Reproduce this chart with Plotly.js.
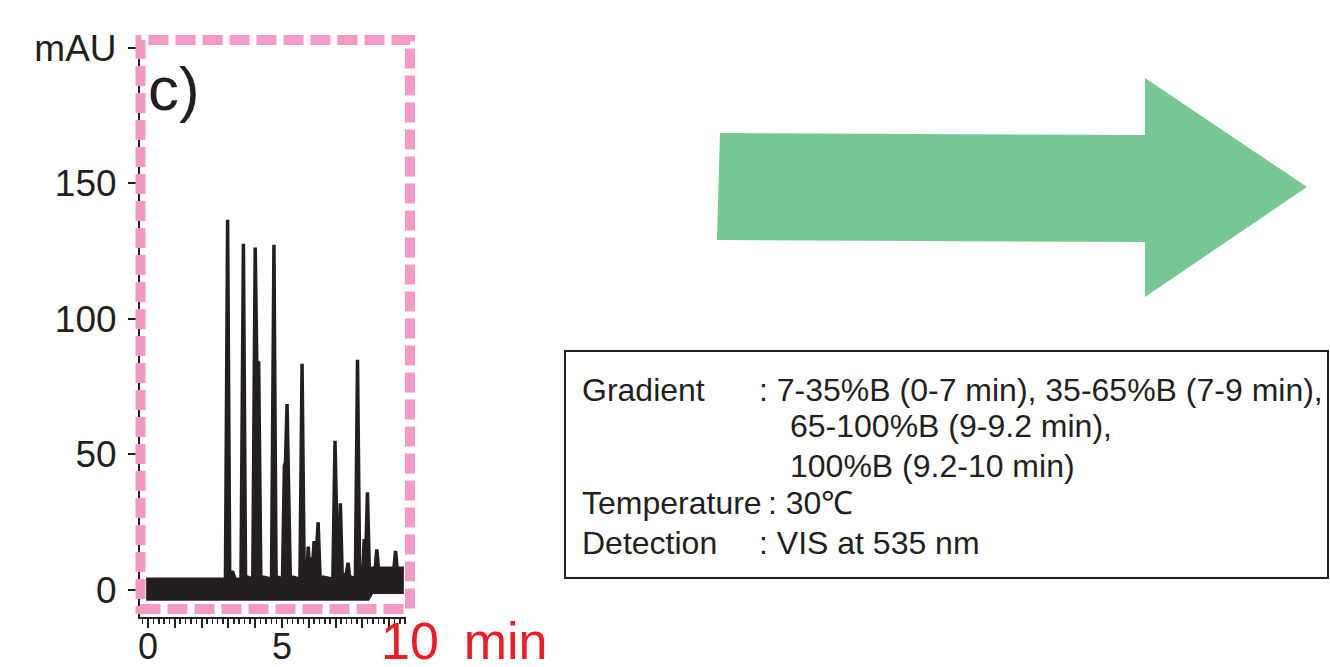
<!DOCTYPE html>
<html>
<head>
<meta charset="utf-8">
<script src="https://cdn.plot.ly/plotly-3.0.1.min.js"></script>
<style>html,body{margin:0;padding:0;background:#fff;}#chart{width:1330px;height:667px;}</style>
</head>
<body>
<div id="chart"></div>
<script>
// ---- data (time in min, signal in mAU) ----
const upperTime = [-0.07, 2.89, 2.97, 3.05, 3.15, 3.25, 3.47, 3.56, 3.64, 3.91, 4.00, 4.06, 4.13, 4.21,
  4.61, 4.70, 4.78, 5.02, 5.09, 5.13, 5.19, 5.25, 5.31, 5.67, 5.75, 5.83, 5.93, 5.98, 6.02, 6.06,
  6.12, 6.20, 6.25, 6.35, 6.42, 6.90, 6.98, 7.07, 7.13, 7.18, 7.25, 7.40, 7.47, 7.52, 7.74, 7.82,
  7.90, 8.02, 8.07, 8.12, 8.19, 8.26, 8.48, 8.54, 8.60, 9.18, 9.24, 9.30, 9.55];
const upperSignal = [4, 4, 136.5, 5, 7, 4, 4, 127.7, 5, 4, 126.3, 84, 83.8, 5,
  4, 127.3, 5, 4, 45.8, 47, 68.6, 30, 5, 4, 83.4, 5, 5, 16, 8, 12,
  6, 18, 8, 25, 5, 4, 55, 12, 10, 32, 5, 6, 10, 5, 4, 84.9,
  6, 6, 18.8, 10, 36, 8, 8, 15, 8, 8, 14.4, 8, 8];
const lowerTime = [-0.07, 8.25, 8.40, 9.55];
const lowerSignal = [-4, -4, -1.5, -1.5];

const xTickValues = [0, 1, 2, 3, 4, 5, 6, 7, 8, 9];
const xTickLabels = ["0", "", "", "", "", "5", "", "", "", ""];
const yTickValues = [0, 50, 100, 150, 200];
const yTickLabels = ["0", "50", "100", "150", "mAU"];

const conditionLabels = ["Gradient", "", "", "Temperature", "Detection"];
const conditionValues = [": 7-35%B (0-7 min), 35-65%B (7-9 min),", "65-100%B (9-9.2 min),",
  "100%B (9.2-10 min)", ": 30\u2103", ": VIS at 535 nm"];
const panelLabel = "c)";
const timeUnitLabel = "10\u2009 min";

// ---- layout helpers (pixel -> paper) ----
const L = 140, R = 406, T = 40, B = 617;
const px = x => (x - L) / (R - L);
const py = y => (B - y) / (B - T);
const FONT = "Liberation Sans, Arial, Helvetica, sans-serif";
const INK = "#231f20";

const traces = [
  {x: lowerTime, y: lowerSignal, type: "scatter", mode: "lines",
   line: {width: 0, color: INK}, hoverinfo: "skip"},
  {x: upperTime, y: upperSignal, type: "scatter", mode: "lines",
   line: {width: 3.5, color: INK}, fill: "tonexty", fillcolor: INK}
];

const lineY = [390, 426, 466, 503, 543];
const valueX = [757, 788, 788, 766, 757];
const annotations = [];
conditionLabels.forEach((t, i) => {
  if (t) annotations.push({xref: "paper", yref: "paper", x: px(580), y: py(lineY[i]),
    xanchor: "left", yanchor: "middle", text: t, showarrow: false,
    font: {family: FONT, size: 32, color: INK}});
});
conditionValues.forEach((t, i) => {
  annotations.push({xref: "paper", yref: "paper", x: px(valueX[i]), y: py(lineY[i]),
    xanchor: "left", yanchor: "middle", text: t, showarrow: false,
    font: {family: FONT, size: 32, color: INK}});
});
annotations.push({xref: "paper", yref: "paper", x: px(146), y: py(89), xanchor: "left", yanchor: "middle",
  text: panelLabel, showarrow: false, font: {family: FONT, size: 62, color: INK}});
annotations.push({xref: "paper", yref: "paper", x: px(379), y: py(641), xanchor: "left", yanchor: "middle",
  text: timeUnitLabel, showarrow: false, font: {family: FONT, size: 52, color: "#ED1C24"}});

const arrowPts = [[720,133],[1145,135],[1145,78],[1307,187],[1145,297],[1145,242],[717,240]];
const arrowPath = arrowPts.map((p, i) => (i ? "L" : "M") + px(p[0]) + "," + py(p[1])).join(" ") + " Z";

const layout = {
  width: 1330, height: 667, autosize: false,
  margin: {l: L, r: 1330 - R, t: T, b: 667 - B, pad: 0},
  paper_bgcolor: "#ffffff", plot_bgcolor: "rgba(0,0,0,0)",
  showlegend: false,
  font: {family: FONT, color: INK},
  xaxis: {range: [-0.30, 9.63], showline: true, linecolor: INK, linewidth: 2,
    ticks: "outside", ticklen: 9, tickwidth: 2, tickcolor: INK,
    tickmode: "array", tickvals: xTickValues, ticktext: xTickLabels,
    tickfont: {family: FONT, size: 36, color: INK}, ticklabelstandoff: -12,
    showgrid: false, zeroline: false, fixedrange: true,
    minor: {tickmode: "linear", tick0: 0, dtick: 0.2, ticks: "outside", ticklen: 5, tickwidth: 1.5, tickcolor: INK, showgrid: false}},
  yaxis: {range: [-9.96, 202.8], showline: true, linecolor: INK, linewidth: 2,
    ticks: "outside", ticklen: 10, tickwidth: 2, tickcolor: INK,
    tickmode: "array", tickvals: yTickValues, ticktext: yTickLabels,
    tickfont: {family: FONT, size: 37, color: INK}, ticklabelstandoff: 4,
    showgrid: false, zeroline: false, fixedrange: true},
  shapes: [
    {type: "path", xref: "paper", yref: "paper", path: arrowPath,
     fillcolor: "#77C792", line: {width: 0}, layer: "below"},
    {type: "rect", xref: "paper", yref: "paper", x0: px(565), x1: px(1328), y0: py(578), y1: py(351),
     line: {color: INK, width: 2}, fillcolor: "rgba(0,0,0,0)", layer: "above"},
    {type: "rect", xref: "paper", yref: "paper", x0: px(140.5), x1: px(410), y0: py(609), y1: py(40),
     line: {color: "#F39AC4", width: 10, dash: "20px,7px"}, fillcolor: "rgba(0,0,0,0)", layer: "above"}
  ],
  annotations: annotations
};

Plotly.newPlot("chart", traces, layout, {staticPlot: true, displayModeBar: false});
</script>
</body>
</html>
